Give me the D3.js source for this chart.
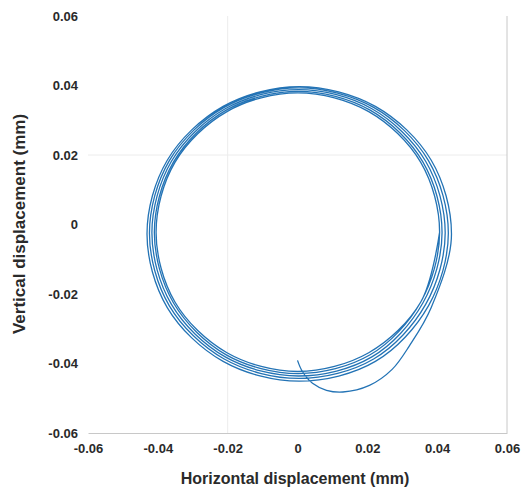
<!DOCTYPE html>
<html><head><meta charset="utf-8">
<script src="https://cdn.jsdelivr.net/npm/d3@7/dist/d3.min.js"></script>
<style>html,body{margin:0;padding:0;background:#fff;}svg{display:block;}</style>
</head><body>
<svg id="chart" width="521" height="491"></svg>
<script>
// Tick values
const xTicks = [-0.06, -0.04, -0.02, 0, 0.02, 0.04, 0.06];
const yTicks = [-0.06, -0.04, -0.02, 0, 0.02, 0.04, 0.06];
const xTickLabels = ["-0.06", "-0.04", "-0.02", "0", "0.02", "0.04", "0.06"];
const yTickLabels = ["-0.06", "-0.04", "-0.02", "0", "0.02", "0.04", "0.06"];

// Trajectory (mm): transient start then ~5 converging loops
const trajX = [
  0.0000, 0.0014, 0.0043, 0.0083, 0.0130, 0.0206, 0.0271, 0.0320,
  0.0383, 0.0441, 0.0383, 0.0223, 0.0005, -0.0213, -0.0373, -0.0431, -0.0373, -0.0213, 0.0005, 0.0223,
  0.0375, 0.0432, 0.0375, 0.0218, 0.0004, -0.0210, -0.0367, -0.0424, -0.0367, -0.0210, 0.0004, 0.0218,
  0.0367, 0.0423, 0.0367, 0.0213, 0.0003, -0.0207, -0.0361, -0.0417, -0.0361, -0.0207, 0.0003, 0.0213,
  0.0359, 0.0414, 0.0359, 0.0208, 0.0002, -0.0204, -0.0355, -0.0410, -0.0355, -0.0204, 0.0002, 0.0208,
  0.0353, 0.0407, 0.0353, 0.0204, 0.0001, -0.0202, -0.0351, -0.0405, -0.0351, -0.0202, 0.0001, 0.0204,
  0.0353, 0.0407
];
const trajY = [
  -0.0391, -0.0423, -0.0457, -0.0477, -0.0482, -0.0463, -0.0417, -0.0350,
  -0.0239, -0.0027, 0.0185, 0.0340, 0.0397, 0.0340, 0.0185, -0.0027, -0.0239, -0.0394, -0.0451, -0.0394,
  -0.0234, -0.0025, 0.0184, 0.0337, 0.0393, 0.0337, 0.0184, -0.0025, -0.0234, -0.0387, -0.0443, -0.0387,
  -0.0230, -0.0024, 0.0182, 0.0333, 0.0388, 0.0333, 0.0182, -0.0024, -0.0230, -0.0381, -0.0436, -0.0381,
  -0.0226, -0.0023, 0.0180, 0.0329, 0.0383, 0.0329, 0.0180, -0.0023, -0.0226, -0.0375, -0.0429, -0.0375,
  -0.0223, -0.0022, 0.0179, 0.0325, 0.0379, 0.0325, 0.0179, -0.0022, -0.0223, -0.0369, -0.0423, -0.0369,
  -0.0223, -0.0022
];

const svg = d3.select("#chart");
const mLeft = 88, mRight = 507, mTop = 16, mBottom = 433;
const x = d3.scaleLinear().domain([-0.06, 0.06]).range([mLeft, mRight]);
const y = d3.scaleLinear().domain([-0.06, 0.06]).range([mBottom, mTop]);

// faint grid lines
svg.append("line").attr("x1", x(-0.02)).attr("x2", x(-0.02)).attr("y1", mTop).attr("y2", mBottom)
  .attr("stroke", "#ececec").attr("stroke-width", 1);
svg.append("line").attr("x1", mLeft).attr("x2", mRight).attr("y1", y(0.02)).attr("y2", y(0.02))
  .attr("stroke", "#ececec").attr("stroke-width", 1);

// bottom axis
const xAxis = d3.axisBottom(x).tickValues(xTicks).tickSize(0).tickPadding(11)
  .tickFormat((d, i) => xTickLabels[i]);
const gx = svg.append("g").attr("transform", `translate(0,${mBottom})`).call(xAxis);
gx.select(".domain").attr("stroke", "#c8c8c8");
gx.selectAll("text").attr("font-family", "Liberation Sans, Arial, sans-serif")
  .attr("font-size", 13).attr("font-weight", "bold").attr("fill", "#2a2a2a");

// left axis (labels only)
const yAxis = d3.axisLeft(y).tickValues(yTicks).tickSize(0).tickPadding(10)
  .tickFormat((d, i) => yTickLabels[i]);
const gy = svg.append("g").attr("transform", `translate(${mLeft},0)`).call(yAxis);
gy.select(".domain").remove();
gy.selectAll("text").attr("font-family", "Liberation Sans, Arial, sans-serif")
  .attr("font-size", 13).attr("font-weight", "bold").attr("fill", "#2a2a2a");

// right border
svg.append("line").attr("x1", mRight).attr("x2", mRight).attr("y1", mTop).attr("y2", mBottom)
  .attr("stroke", "#c8c8c8").attr("stroke-width", 1);

// trajectory
const pts = trajX.map((v, i) => [v, trajY[i]]);
const line = d3.line().x(d => x(d[0])).y(d => y(d[1])).curve(d3.curveCatmullRom.alpha(0.5));
svg.append("path").attr("d", line(pts)).attr("fill", "none")
  .attr("stroke", "#2373b5").attr("stroke-width", 1.3);

// axis titles
svg.append("text").attr("x", 295).attr("y", 484).attr("text-anchor", "middle")
  .attr("font-family", "Liberation Sans, Arial, sans-serif").attr("font-size", 16)
  .attr("font-weight", "bold").attr("fill", "#2a2a2a").text("Horizontal displacement (mm)");
svg.append("text").attr("transform", "translate(25,224) rotate(-90)").attr("text-anchor", "middle")
  .attr("font-family", "Liberation Sans, Arial, sans-serif").attr("font-size", 17)
  .attr("font-weight", "bold").attr("fill", "#2a2a2a").text("Vertical displacement (mm)");
</script>
</body></html>
